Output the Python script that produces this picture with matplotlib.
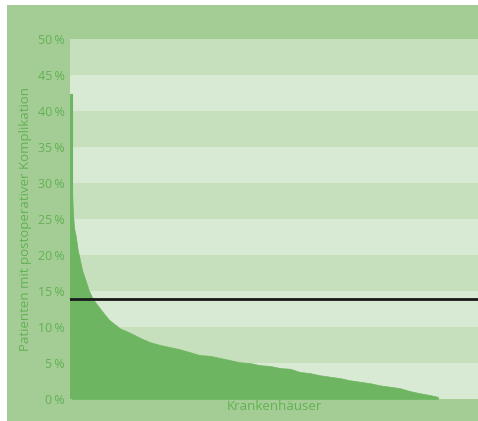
import numpy as np
import matplotlib
matplotlib.use("Agg")
import matplotlib.pyplot as plt
from matplotlib.patches import Rectangle

# Rang der Krankenhäuser (sortiert, 0..1000) und Anteil Patienten mit Komplikation in %
rang = [0, 5, 8, 11, 16, 21, 33, 51, 62, 84, 106, 136, 163, 190, 217, 245, 272,
        299, 326, 353, 380, 408, 435, 462, 489, 516, 543, 571, 598, 625, 652,
        679, 706, 734, 761, 788, 815, 842, 870, 897, 924, 951, 978, 1000]
anteil = [42.4, 29.6, 25.8, 23.8, 22.5, 20.7, 17.9, 15.1, 13.9, 12.4, 11.0, 9.8,
          9.2, 8.5, 7.9, 7.5, 7.2, 6.9, 6.5, 6.1, 6.0, 5.7, 5.4, 5.1, 5.0, 4.7,
          4.6, 4.3, 4.2, 3.75, 3.6, 3.3, 3.1, 2.9, 2.6, 2.4, 2.2, 1.9, 1.7, 1.5,
          1.1, 0.8, 0.55, 0.3]
mittelwert = 13.9
x_max = 1109
y_ticks = [0, 5, 10, 15, 20, 25, 30, 35, 40, 45, 50]
y_labels = [f"{t}\u2009%" for t in y_ticks]

# Farben
rahmen = "#a4cd96"
band_dunkel = "#c6e0bd"
band_hell = "#d8ead4"
fuellung = "#6db560"
text_gruen = "#63b153"
fam = ["Open Sans", "DejaVu Sans"]

fig = plt.figure(figsize=(4.78, 4.21), dpi=100)
fig.patch.set_facecolor("white")
# gruener Rahmen hinter allem
rect = Rectangle((7 / 478, 0), 1 - 7 / 478, 1 - 5 / 421,
                 transform=fig.transFigure, facecolor=rahmen,
                 edgecolor="none", zorder=-5)
fig.add_artist(rect)

ax = fig.add_axes([70 / 478, 22 / 421, 408 / 478, 360 / 421])
ax.set_zorder(1)
ax.set_facecolor(band_hell)

# abwechselnde Baender
for i in range(len(y_ticks) - 1):
    farbe = band_hell if i % 2 == 0 else band_dunkel
    ax.axhspan(y_ticks[i], y_ticks[i + 1], color=farbe, lw=0, zorder=0)

# Spitzenreiter als eigener Balken, Rest als Flaeche
ax.bar(rang[0], anteil[0], width=rang[1] - rang[0], align="edge",
       color=fuellung, edgecolor=fuellung, lw=0.8, zorder=2)
ax.fill_between(rang[1:], anteil[1:], 0, color=fuellung, lw=0.5,
                edgecolor=fuellung, zorder=2)
ax.axhline(mittelwert, color="#1a1a1a", lw=2, zorder=3)

ax.set_xlim(0, x_max)
ax.set_ylim(0, 50)
ax.set_xticks([])
ax.set_yticks(y_ticks)
ax.set_yticklabels(y_labels, family=fam, fontsize=9, color=text_gruen)
ax.tick_params(axis="y", length=0, pad=4)
for s in ax.spines.values():
    s.set_visible(False)

ax.set_ylabel("Patienten mit postoperativer Komplikation", family=fam,
              fontsize=9.5, color=text_gruen, labelpad=4)
ax.set_xlabel("Krankenhäuser", family=fam, fontsize=9.5, color=text_gruen,
              labelpad=1)

fig.savefig("out.png", dpi=100)
